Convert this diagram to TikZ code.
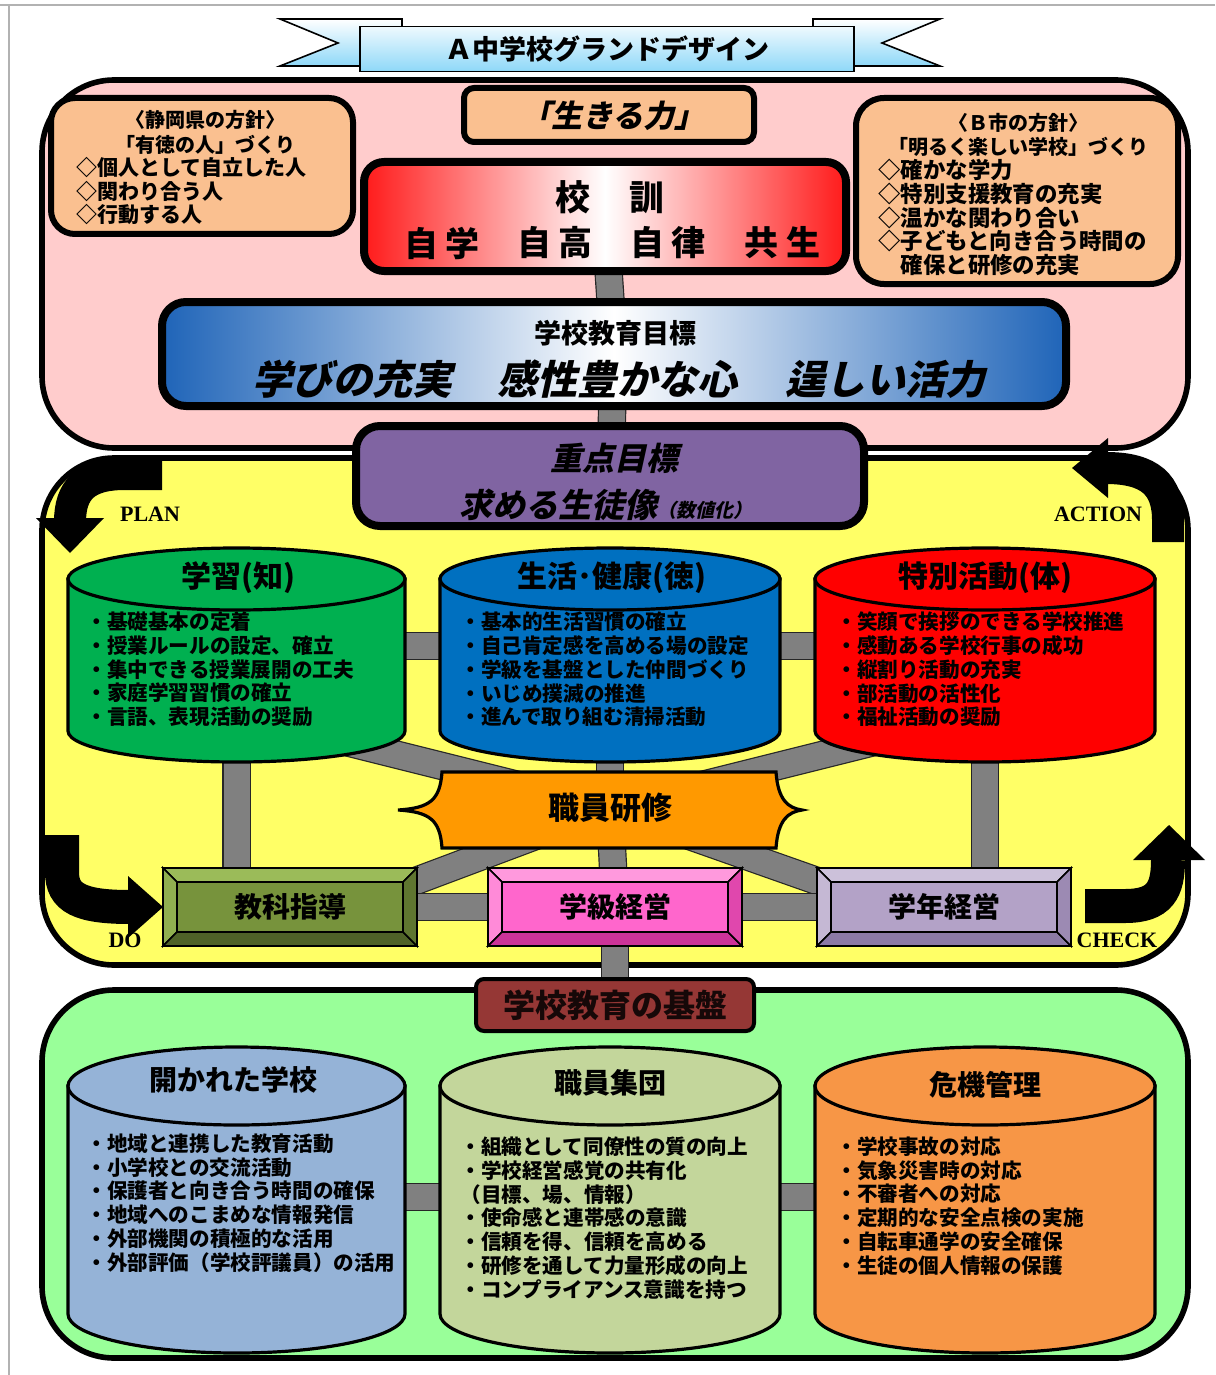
\documentclass[tikz,border=0pt]{standalone}
\usepackage{fontspec}
\setmainfont{Noto Sans CJK JP}
\newfontfamily\jpit{Noto Sans CJK JP}[FakeSlant=0.22]
\newfontfamily\latf{Liberation Serif}
\usetikzlibrary{calc}
\definecolor{pinkbg}{HTML}{FFCCCC}
\definecolor{yellowbg}{HTML}{FFFF66}
\definecolor{greenbg}{HTML}{99FF99}
\definecolor{peach}{HTML}{FAC090}
\definecolor{ribbon}{HTML}{8ED8F8}
\definecolor{kred}{HTML}{FF1A1A}
\definecolor{kblue}{HTML}{1F64B8}
\definecolor{purp}{HTML}{8064A2}
\definecolor{cgreen}{HTML}{00B050}
\definecolor{cblue}{HTML}{0070C0}
\definecolor{cred}{HTML}{FF0000}
\definecolor{corange}{HTML}{FF9900}
\definecolor{ccylA}{HTML}{95B3D7}
\definecolor{ccylB}{HTML}{C3D69B}
\definecolor{ccylC}{HTML}{F79646}
\definecolor{barg}{HTML}{808080}
\definecolor{kibanc}{HTML}{953735}
\definecolor{olive}{HTML}{77933C}
\definecolor{olivel}{HTML}{9BBB59}
\definecolor{olived}{HTML}{4F6228}
\definecolor{mag}{HTML}{FF66CC}
\definecolor{magl}{HTML}{FF99DD}
\definecolor{magd}{HTML}{CC3399}
\definecolor{lav}{HTML}{B3A2C7}
\definecolor{lavl}{HTML}{CCC1DA}
\definecolor{lavd}{HTML}{8C7AA6}
\pgfdeclarelayer{bg}
\pgfdeclarelayer{conn}
\pgfsetlayers{bg,conn,main}
\newcommand\cylshape[7]{%
  \path[fill=#7, draw=black, line width=1.6pt] (#1,#3) -- (#1,#4) arc[start angle=180, end angle=360, x radius=#5pt, y radius=#6pt] -- (#2,#3) -- cycle;
  \path[fill=#7, draw=black, line width=1.6pt] ({(#1+#2)/2},#3) ellipse [x radius=#5pt, y radius=#6pt];
}
\newcommand\bevelbox[7]{%
  \node[draw=black, line width=1.4pt, fill=#4, minimum width=127pt, minimum height=39pt, inner sep=0pt, outer sep=0pt] (#1) at (#2,#3) {};
  \path[fill=#5, draw=black, line width=0.8pt] (#1.north west) -- (#1.north east) -- ([shift={(-14,14)}]#1.north east) -- ([shift={(14,14)}]#1.north west) -- cycle;
  \path[fill=#5!70!#4, draw=black, line width=0.8pt] (#1.north west) -- ([shift={(14,14)}]#1.north west) -- ([shift={(14,-14)}]#1.south west) -- (#1.south west) -- cycle;
  \path[fill=#6, draw=black, line width=0.8pt] (#1.south west) -- (#1.south east) -- ([shift={(-14,-14)}]#1.south east) -- ([shift={(14,-14)}]#1.south west) -- cycle;
  \path[fill=#6!60!#4, draw=black, line width=0.8pt] (#1.north east) -- ([shift={(-14,14)}]#1.north east) -- ([shift={(-14,-14)}]#1.south east) -- (#1.south east) -- cycle;
  \node[inner sep=0pt, font=\bfseries\fontsize{14}{16}\selectfont] (#1t) at (#1.center) {#7};
}
\begin{document}
\begin{tikzpicture}[x=0.5pt,y=-0.5pt,
  txt/.style={inner sep=0pt},
  box/.style={draw=black, line width=3pt, rounded corners=10pt, inner sep=0pt},
  bar/.style={draw=black!85, line width=0.6pt, double=barg, double distance=13pt},
  region/.style={draw=black, line width=2.8pt, rounded corners=36pt},
  cylnode/.style={inner sep=0pt, minimum height=100pt},
  itemsA/.style={txt, anchor=west, align=left, font=\bfseries\fontsize{10.3}{11.875}\selectfont},
  itemsB/.style={txt, anchor=west, align=left, font=\bfseries\fontsize{10.3}{11.9}\selectfont},
  cyltitle/.style={txt, font=\bfseries\fontsize{15}{17}\selectfont},
  pdca/.style={txt, font=\latf\bfseries\fontsize{11}{13}\selectfont}
]
\useasboundingbox (0,0) rectangle (1215,1375);
\begin{pgfonlayer}{bg}
\draw[gray!60, line width=0.6pt] (0,5) -- (1215,5);
\draw[gray!60, line width=0.6pt] (9,5) -- (9,1375);
\path[region, fill=pinkbg] (42,80) rectangle (1188,448);
\path[region, fill=yellowbg] (42,458) rectangle (1188,965);
\path[region, fill=greenbg] (42,990) rectangle (1188,1358);
\end{pgfonlayer}

% ---- title ribbon
\path[draw=black, line width=0.8pt, top color=white, bottom color=ribbon] (402,19) -- (280,19) -- (338,43) -- (280,66) -- (362,66) -- (362,27) -- (402,27) -- cycle;
\path[draw=black, line width=0.8pt, top color=white, bottom color=ribbon] (813,19) -- (940,19) -- (882,43) -- (940,66) -- (853,66) -- (853,27) -- (813,27) -- cycle;
\node[draw=black, line width=0.8pt, top color=white!85!ribbon, bottom color=ribbon, minimum width=247pt, minimum height=22.5pt, inner sep=0pt, font=\bfseries\fontsize{13.5}{15}\selectfont] (title) at (607,49) {Ａ中学校グランドデザイン};

% ---- pink region boxes
\node[box, fill=peach, minimum width=145pt, minimum height=27pt, rounded corners=5pt] (ikiru) at (609,115) {};
\node[txt, font=\jpit\bfseries\fontsize{15.5}{18}\selectfont] (ikirut) at (613,116) {「生きる力」};

\node[box, fill=peach, minimum width=151pt, minimum height=68pt, rounded corners=12pt] (shizuoka) at (202,166) {};
\node[txt, align=center, font=\bfseries\fontsize{10}{12.5}\selectfont] (shizh) at (205,132.5) {〈静岡県の方針〉\\「有徳の人」づくり};
\node[txt, anchor=west, align=left, font=\bfseries\fontsize{10.5}{11.75}\selectfont] (shizl) at (76,191.5) {◇個人として自立した人\\◇関わり合う人\\◇行動する人};

\node[box, fill=peach, minimum width=161pt, minimum height=93pt, rounded corners=14pt] (bshi) at (1017,191) {};
\node[txt, align=center, font=\bfseries\fontsize{10}{12}\selectfont] (bshih) at (1018,135) {〈Ｂ市の方針〉\\「明るく楽しい学校」づくり};
\node[txt, anchor=west, align=left, font=\bfseries\fontsize{11.2}{11.9}\selectfont] (bshil) at (878,217.5) {◇確かな学力\\◇特別支援教育の充実\\◇温かな関わり合い\\◇子どもと向き合う時間の\\　確保と研修の充実};

\node[draw=black, line width=4pt, rounded corners=10pt, left color=kred, right color=kred, middle color=white, minimum width=241pt, minimum height=54.5pt, inner sep=0pt] (kokun) at (605,216.5) {};
\node[txt, font=\bfseries\fontsize{17.5}{20}\selectfont] (kokunt) at (610,197) {校\hspace{20pt}訓};
\node[txt, font=\bfseries\fontsize{17}{20}\selectfont] (ku1) at (442,243) {自\hspace{4pt}学};
\node[txt, font=\bfseries\fontsize{17}{20}\selectfont] (ku2) at (555,243) {自\hspace{4pt}高};
\node[txt, font=\bfseries\fontsize{17}{20}\selectfont] (ku3) at (668,243) {自\hspace{4pt}律};
\node[txt, font=\bfseries\fontsize{17}{20}\selectfont] (ku4) at (782,243) {共\hspace{4pt}生};

\node[draw=black, line width=4pt, rounded corners=12pt, left color=kblue, right color=kblue, middle color=white, minimum width=452pt, minimum height=52pt, inner sep=0pt] (mokuhyo) at (614,354) {};
\node[txt, font=\bfseries\fontsize{13.5}{16}\selectfont] (mokuhyot) at (615,333) {学校教育目標};
\node[txt, font=\jpit\bfseries\fontsize{20}{22}\selectfont] (mk1) at (352,379) {学びの充実};
\node[txt, font=\jpit\bfseries\fontsize{20}{22}\selectfont] (mk2) at (617,379) {感性豊かな心};
\node[txt, font=\jpit\bfseries\fontsize{20}{22}\selectfont] (mk3) at (885,379) {逞しい活力};

\node[draw=black, line width=4pt, rounded corners=12pt, fill=purp, minimum width=254pt, minimum height=50pt, inner sep=0pt] (juten) at (610,476) {};
\node[txt, font=\jpit\bfseries\fontsize{16}{18}\selectfont] (jutent) at (614,458) {重点目標};
\node[txt, font=\jpit\bfseries\fontsize{16.5}{18}\selectfont] (jutens) at (606,505) {求める生徒像\fontsize{9.5}{11}\selectfont（数値化）};

% ---- PDCA arrows
\draw[line width=16pt] (162,474) -- (125,474) .. controls (85,474) and (70,490) .. (70,522);
\fill (36,518) -- (104,518) -- (70,553) -- cycle;
\draw[line width=16pt] (1168,542) -- (1168,520) .. controls (1168,485) and (1150,468) .. (1106,468);
\fill (1108,438) -- (1108,498) -- (1072,468) -- cycle;
\draw[line width=17pt] (62,835) -- (62,872) .. controls (62,898) and (80,907) .. (130,907);
\fill (128,876) -- (128,938) -- (163,907) -- cycle;
\draw[line width=17pt] (1085,906) -- (1125,906) .. controls (1160,906) and (1168,890) .. (1168,860);
\fill (1133,860) -- (1205,860) -- (1169,825) -- cycle;
\node[pdca] (plan) at (150,514) {PLAN};
\node[pdca] (action) at (1098,514) {ACTION};
\node[pdca] (do) at (125,940) {DO};
\node[pdca] (check) at (1117,940) {CHECK};

% ---- top cylinders
\cylshape{68}{405}{579}{731}{84.25}{15.5}{cgreen}
\cylshape{440}{780}{579}{731}{85}{15.5}{cblue}
\cylshape{815}{1155}{579}{731}{85}{15.5}{cred}
\node[cylnode, minimum width=168.5pt] (gaku) at (236.5,646) {};
\node[cylnode, minimum width=170pt] (seik) at (610,646) {};
\node[cylnode, minimum width=170pt] (toku) at (985,646) {};
\coordinate (gakub) at (330,738);
\coordinate (tokub) at (890,738);
\node[cyltitle] (gakut) at (238,578) {学習(知)};
\node[cyltitle] (seikt) at (612,578) {生活･健康(徳)};
\node[cyltitle] (tokut) at (985,578) {特別活動(体)};
\node[itemsA] (gakul) at (86,669.5) {・基礎基本の定着\\・授業ルールの設定、確立\\・集中できる授業展開の工夫\\・家庭学習習慣の確立\\・言語、表現活動の奨励};
\node[itemsA] (seikl) at (460,669.5) {・基本的生活習慣の確立\\・自己肯定感を高める場の設定\\・学級を基盤とした仲間づくり\\・いじめ撲滅の推進\\・進んで取り組む清掃活動};
\node[itemsA] (tokul) at (836,669.5) {・笑顔で挨拶のできる学校推進\\・感動ある学校行事の成功\\・縦割り活動の充実\\・部活動の活性化\\・福祉活動の奨励};

% ---- staff training
\path[fill=corange, draw=black, line width=1.6pt] (442,772) -- (776,772) .. controls (778,800) and (788,808) .. (802,810) .. controls (788,812) and (778,820) .. (776,848) -- (442,848) .. controls (440,820) and (430,812) .. (398,810) .. controls (430,808) and (440,800) .. (442,772) -- cycle;
\node[txt, minimum width=170pt, minimum height=38pt, font=\bfseries\fontsize{15.5}{18}\selectfont] (kenshu) at (610,808) {職員研修};

% ---- bevel boxes
\bevelbox{kk}{290}{907}{olive}{olivel}{olived}{教科指導}
\bevelbox{gj}{615}{907}{mag}{magl}{magd}{学級経営}
\bevelbox{yk}{944}{907}{lav}{lavl}{lavd}{学年経営}

% ---- base
\node[draw=black, line width=2pt, rounded corners=4pt, fill=kibanc, minimum width=139pt, minimum height=26pt, inner sep=0pt, font=\bfseries\fontsize{16}{18}\selectfont, text=black!85!kibanc] (kiban) at (615,1005) {学校教育の基盤};

% ---- bottom cylinders
\cylshape{68}{405}{1086}{1314}{84.25}{19.5}{ccylA}
\cylshape{440}{780}{1086}{1314}{85}{19.5}{ccylB}
\cylshape{815}{1155}{1086}{1314}{85}{19.5}{ccylC}
\node[cylnode, minimum width=168.5pt] (hira) at (236.5,1197) {};
\node[cylnode, minimum width=170pt] (shok) at (610,1197) {};
\node[cylnode, minimum width=170pt] (kiki) at (985,1197) {};
\node[cyltitle, font=\bfseries\fontsize{14}{16}\selectfont] (hirat) at (233,1080) {開かれた学校};
\node[cyltitle, font=\bfseries\fontsize{14}{16}\selectfont] (shokt) at (610,1083) {職員集団};
\node[cyltitle, font=\bfseries\fontsize{14}{16}\selectfont] (kikit) at (985,1085) {危機管理};
\node[itemsB] (hiral) at (86,1203) {・地域と連携した教育活動\\・小学校との交流活動\\・保護者と向き合う時間の確保\\・地域へのこまめな情報発信\\・外部機関の積極的な活用\\・外部評価（学校評議員）の活用};
\node[itemsB] (shokl) at (460,1218) {・組織として同僚性の質の向上\\・学校経営感覚の共有化\\（目標、場、情報）\\・使命感と連帯感の意識\\・信頼を得、信頼を高める\\・研修を通して力量形成の向上\\・コンプライアンス意識を持つ};
\node[itemsB] (kikil) at (836,1206) {・学校事故の対応\\・気象災害時の対応\\・不審者への対応\\・定期的な安全点検の実施\\・自転車通学の安全確保\\・生徒の個人情報の保護};

% ---- connectors
\begin{pgfonlayer}{conn}
\draw[bar] (kokun.center) -- (mokuhyo.center);
\draw[bar] (mokuhyo.center) -- (juten.center);
\draw[bar] (gaku.east) -- (seik.west);
\draw[bar] (seik.east) -- (toku.west);
\draw[bar] (gaku.center) -- (gaku.center |- kk.center);
\draw[bar] (toku.center) -- (toku.center |- yk.center);
\draw[bar] (seik.center) -- (kenshu.center);
\draw[bar] (kenshu.center) -- (gj.center);
\draw[bar] (kenshu.center) -- (gakub);
\draw[bar] (kenshu.center) -- (tokub);
\draw[bar] (kenshu.center) -- ($(kk.north east)+(-20,20)$);
\draw[bar] (kenshu.center) -- ($(yk.north west)+(20,20)$);
\draw[bar] (kk.center) -- (gj.center);
\draw[bar] (gj.center) -- (yk.center);
\draw[bar] (gj.center) -- (kiban.center);
\draw[bar] (hira.east) -- (shok.west);
\draw[bar] (shok.east) -- (kiki.west);
\end{pgfonlayer}
\end{tikzpicture}
\end{document}
